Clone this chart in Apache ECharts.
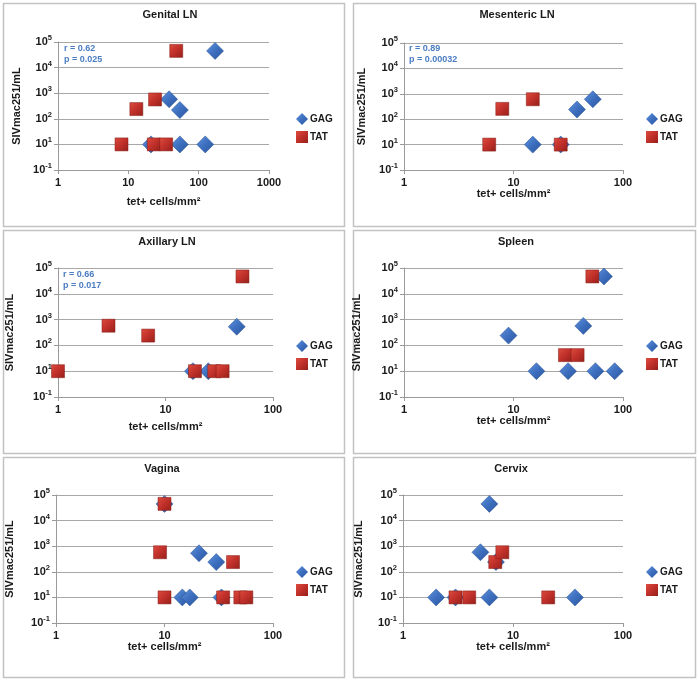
<!DOCTYPE html>
<html>
<head>
<meta charset="utf-8">
<script src="https://cdn.jsdelivr.net/npm/echarts@6/dist/echarts.min.js"></script>
<style>
  html, body { margin: 0; padding: 0; background: #fff; }
  #chart { width: 699px; height: 684px; }
</style>
</head>
<body>
<div id="chart"></div>
<script>
// panel titles and stats
var panelTitles = ['Genital LN', 'Mesenteric LN', 'Axillary LN', 'Spleen', 'Vagina', 'Cervix'];
var panelStats = [['r = 0.62', 'p = 0.025'], ['r = 0.89', 'p = 0.00032'], ['r = 0.66', 'p = 0.017'], null, null, null];
var xMaxValues = [1000, 100, 100, 100, 100, 100];
var yTickExponents = ['-1', '1', '2', '3', '4', '5'];

// Genital LN
var genitalGagX = [171, 38, 54, 21, 54, 124];
var genitalGagY = [45000, 580, 220, 10, 10, 10];
var genitalTatX = [48, 24, 13, 8, 23, 34.5];
var genitalTatY = [45000, 570, 240, 10, 10, 10];
// Mesenteric LN
var mesentericGagX = [15, 27, 38, 53];
var mesentericGagY = [10, 10, 240, 610];
var mesentericTatX = [6, 7.9, 15, 27];
var mesentericTatY = [10, 255, 610, 10];
// Axillary LN
var axillaryGagX = [18, 25, 46];
var axillaryGagY = [10, 10, 530];
var axillaryTatX = [1, 2.95, 6.9, 18.8, 28.4, 34, 52];
var axillaryTatY = [10, 580, 240, 10, 10, 10, 47000];
// Spleen
var spleenGagX = [9, 16.2, 31.5, 43.4, 56, 67, 84];
var spleenGagY = [240, 10, 10, 570, 10, 47000, 10];
var spleenTatX = [29.5, 38.5, 52.5];
var spleenTatY = [42, 42, 47000];
// Vagina
var vaginaGagX = [10, 14.6, 17.1, 20.8, 30, 33.5];
var vaginaGagY = [45000, 10, 10, 530, 240, 10];
var vaginaTatX = [10, 9.1, 10, 34.7, 42.8, 50, 56.8];
var vaginaTatY = [45000, 580, 10, 10, 240, 10, 10];
// Cervix
var cervixGagX = [2, 3, 5.06, 6.1, 6.1, 7, 36.6];
var cervixGagY = [10, 10, 580, 45000, 10, 240, 10];
var cervixTatX = [3, 4, 6.9, 8, 20.9];
var cervixTatY = [10, 10, 240, 580, 10];

var gagData = [[genitalGagX, genitalGagY], [mesentericGagX, mesentericGagY], [axillaryGagX, axillaryGagY],
               [spleenGagX, spleenGagY], [vaginaGagX, vaginaGagY], [cervixGagX, cervixGagY]];
var tatData = [[genitalTatX, genitalTatY], [mesentericTatX, mesentericTatY], [axillaryTatX, axillaryTatY],
               [spleenTatX, spleenTatY], [vaginaTatX, vaginaTatY], [cervixTatX, cervixTatY]];

// layout of each panel (box, plot area, text positions)
var layout = [
    { box: [3, 3, 341, 223], grid: [58, 42, 211, 128], title: [170, 9], xGap: 26, yGap: 36, legend: [296, 113], stats: [64, 43] },
    { box: [353, 3, 342, 223], grid: [404, 43, 219, 127], title: [517, 9], xGap: 17, yGap: 37, legend: [646, 113], stats: [409, 43] },
    { box: [3, 230, 341, 223], grid: [58, 268, 215, 129], title: [167, 236], xGap: 24, yGap: 43, legend: [296, 340], stats: [63, 269] },
    { box: [353, 230, 342, 223], grid: [404, 268, 219, 129], title: [516, 236], xGap: 15, yGap: 42, legend: [646, 340], stats: null },
    { box: [3, 457, 341, 220], grid: [56, 495, 217, 128], title: [162, 463], xGap: 18, yGap: 41, legend: [296, 566], stats: null },
    { box: [353, 457, 342, 220], grid: [403, 495, 220, 128], title: [511, 463], xGap: 18, yGap: 39, legend: [646, 566], stats: null }
];

var FONT = 'Liberation Sans, Arial, sans-serif';
var gagColor = { type: 'linear', x: 0, y: 0, x2: 1, y2: 1, colorStops: [{ offset: 0, color: '#5f93dc' }, { offset: 0.5, color: '#3d6fbf' }, { offset: 1, color: '#2a559c' }] };
var tatColor = { type: 'linear', x: 0, y: 0, x2: 1, y2: 1, colorStops: [{ offset: 0, color: '#dd4c3e' }, { offset: 0.5, color: '#c0302a' }, { offset: 1, color: '#96201a' }] };

var grids = [], xAxes = [], yAxes = [], series = [], titles = [], legends = [], graphics = [];

layout.forEach(function (l, i) {
    graphics.push({
        type: 'rect', z: -1,
        shape: { x: l.box[0] + 0.5, y: l.box[1] + 0.5, width: l.box[2], height: l.box[3] },
        style: { fill: '#fff', stroke: '#c2c2c2', lineWidth: 1.5 }
    });
    if (panelStats[i]) {
        graphics.push({
            type: 'text', left: l.stats[0], top: l.stats[1], z: 10,
            style: { text: panelStats[i].join('\n'), fill: '#4a7cc2', font: 'bold 9px ' + FONT, lineHeight: 11 }
        });
    }
    grids.push({ left: l.grid[0], top: l.grid[1], width: l.grid[2], height: l.grid[3] });
    titles.push({
        text: panelTitles[i], left: l.title[0], top: l.title[1], textAlign: 'center', padding: 0,
        textStyle: { fontFamily: FONT, fontSize: 11, fontWeight: 'bold', color: '#1a1a1a' }
    });
    legends.push({
        left: l.legend[0], top: l.legend[1], orient: 'vertical', itemWidth: 12, itemHeight: 12, itemGap: 6,
        padding: 0, selectedMode: false,
        itemStyle: { borderWidth: 0 },
        textStyle: { fontFamily: FONT, fontSize: 10, fontWeight: 'bold', color: '#1a1a1a', padding: [0, 0, 0, -3] },
        data: [{ name: 'GAG', icon: 'diamond' }, { name: 'TAT', icon: 'rect' }]
    });
    xAxes.push({
        gridIndex: i, type: 'log', logBase: 10, min: 1, max: xMaxValues[i],
        name: 'tet+ cells/mm²', nameLocation: 'middle', nameGap: l.xGap,
        nameTextStyle: { fontFamily: FONT, fontSize: 11, fontWeight: 'bold', color: '#1a1a1a' },
        axisLine: { lineStyle: { color: '#9a9a9a', width: 1 } },
        axisTick: { show: true, length: 4, lineStyle: { color: '#9a9a9a' } },
        axisLabel: { fontFamily: FONT, fontSize: 11, fontWeight: 'bold', color: '#1a1a1a', margin: 7,
            formatter: function (v) { return String(Math.round(v)); } },
        splitLine: { show: false }
    });
    yAxes.push({
        gridIndex: i, type: 'log', logBase: 10, min: 1, max: 100000,
        name: 'SIVmac251/mL', nameLocation: 'middle', nameGap: l.yGap,
        nameTextStyle: { fontFamily: FONT, fontSize: 11, fontWeight: 'bold', color: '#1a1a1a' },
        axisLine: { show: true, lineStyle: { color: '#9a9a9a', width: 1 } },
        axisTick: { show: true, length: 4, lineStyle: { color: '#9a9a9a' } },
        axisLabel: {
            fontFamily: FONT, margin: 6,
            formatter: function (v) {
                var e = Math.round(Math.log(v) / Math.LN10);
                return '{b|10}{s|' + yTickExponents[e] + '}';
            },
            rich: {
                b: { fontFamily: FONT, fontSize: 11, fontWeight: 'bold', color: '#1a1a1a' },
                s: { fontFamily: FONT, fontSize: 7.5, fontWeight: 'bold', color: '#1a1a1a', verticalAlign: 'top', padding: [0, 0, 8, 0] }
            }
        },
        splitLine: { show: true, lineStyle: { color: '#a8a8a8', width: 1 } }
    });
    series.push({
        name: 'GAG', type: 'scatter', xAxisIndex: i, yAxisIndex: i, symbol: 'diamond', symbolSize: 17,
        itemStyle: { color: gagColor, borderColor: '#264f8f', borderWidth: 0.5, opacity: 1 },
        data: gagData[i][0].map(function (x, k) { return [x, gagData[i][1][k]]; })
    });
    series.push({
        name: 'TAT', type: 'scatter', xAxisIndex: i, yAxisIndex: i, symbol: 'rect', symbolSize: 13,
        itemStyle: { color: tatColor, borderColor: '#821a14', borderWidth: 0.5, opacity: 1 },
        data: tatData[i][0].map(function (x, k) { return [x, tatData[i][1][k]]; })
    });
});

var chart = echarts.init(document.getElementById('chart'));
chart.setOption({
    animation: false,
    backgroundColor: '#fff',
    title: titles,
    legend: legends,
    grid: grids,
    xAxis: xAxes,
    yAxis: yAxes,
    series: series,
    graphic: graphics
});
</script>
</body>
</html>
